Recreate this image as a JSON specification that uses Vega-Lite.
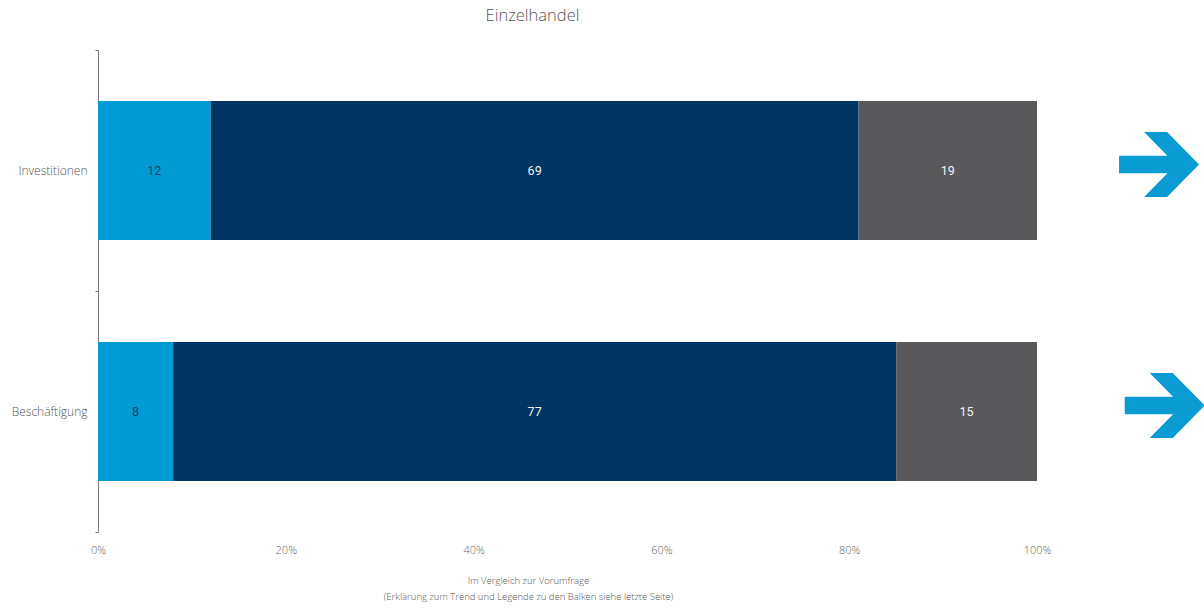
{
  "$schema": "https://vega.github.io/schema/vega-lite/v6.json",
  "autosize": {"type": "none"},
  "padding": {"left": 98, "top": 50, "right": 167, "bottom": 76},
  "width": 939,
  "height": 482,
  "background": "white",
  "config": {"view": {"stroke": null}, "font": "Open Sans"},
  "title": {"text": "Einzelhandel", "fontSize": 16.5, "fontWeight": 300, "color": "#555555", "font": "Open Sans", "dx": -35, "offset": 20},
  "datasets": {
    "bars": [
      {"cat": "Investitionen", "seg": "steigend", "rank": 1, "value": 12},
      {"cat": "Investitionen", "seg": "gleichbleibend", "rank": 2, "value": 69},
      {"cat": "Investitionen", "seg": "sinkend", "rank": 3, "value": 19},
      {"cat": "Beschäftigung", "seg": "steigend", "rank": 1, "value": 8},
      {"cat": "Beschäftigung", "seg": "gleichbleibend", "rank": 2, "value": 77},
      {"cat": "Beschäftigung", "seg": "sinkend", "rank": 3, "value": 15}
    ],
    "arrows": [
      {"cat": "Investitionen", "pos": 113.0, "trend": "gleich"},
      {"cat": "Beschäftigung", "pos": 113.6, "trend": "gleich"}
    ]
  },
  "layer": [
    {
      "data": {"name": "bars"},
      "mark": {"type": "bar", "height": {"band": 0.577}},
      "encoding": {
        "y": {
          "field": "cat", "type": "nominal", "sort": ["Investitionen", "Beschäftigung"],
          "scale": {"paddingInner": 0, "paddingOuter": 0},
          "axis": {"title": null, "domain": true, "domainColor": "#7a7a7a", "ticks": true, "tickBand": "extent", "tickSize": 3, "tickColor": "#7a7a7a", "labelPadding": 8, "labelFontSize": 12, "labelColor": "#555555", "labelFont": "Open Sans", "labelFontWeight": 300}
        },
        "x": {
          "field": "value", "type": "quantitative", "stack": "zero",
          "scale": {"domain": [0, 100], "nice": false},
          "axis": {
            "values": [0, 20, 40, 60, 80, 100],
            "labelExpr": "datum.value + '%'",
            "labelFlush": false,
            "domain": false, "ticks": false, "tickSize": 0, "grid": false,
            "labelPadding": 12, "labelFontSize": 11, "labelColor": "#666666", "labelFont": "Open Sans", "labelFontWeight": 300,
            "title": ["Im Vergleich zur Vorumfrage", "(Erklärung zum Trend und Legende zu den Balken siehe letzte Seite)"],
            "titleFontSize": 9.5, "titleFontWeight": 300, "titleColor": "#555555", "titleFont": "Open Sans",
            "titleX": 430, "titleY": 43, "titleBaseline": "top", "titleLineHeight": 16, "titleAnchor": "middle", "titleAlign": "center"
          }
        },
        "order": {"field": "rank", "type": "quantitative"},
        "color": {
          "field": "seg", "type": "nominal",
          "scale": {"domain": ["steigend", "gleichbleibend", "sinkend"], "range": ["#009BD5", "#003462", "#59595B"]},
          "legend": null
        }
      }
    },
    {
      "data": {"name": "bars"},
      "mark": {"type": "text", "fontSize": 12.5, "fontWeight": 400, "font": "Roboto"},
      "encoding": {
        "y": {"field": "cat", "type": "nominal", "sort": ["Investitionen", "Beschäftigung"]},
        "x": {"field": "value", "type": "quantitative", "stack": "zero", "bandPosition": 0.5},
        "order": {"field": "rank", "type": "quantitative"},
        "detail": {"field": "seg"},
        "text": {"field": "value", "type": "quantitative"},
        "color": {"condition": {"test": "datum.seg === 'steigend'", "value": "#1d3c63"}, "value": "#f2f2f2"}
      }
    },
    {
      "data": {"name": "arrows"},
      "mark": {"type": "point", "filled": true, "opacity": 1, "yOffset": -6, "size": 6400, "color": "#0A9BD3",
        "shape": "M-1,-0.22L0.21,-0.22L-0.375,-0.81L0.2,-0.81L1,0L0.2,0.81L-0.375,0.81L0.21,0.22L-1,0.22Z"},
      "encoding": {
        "y": {"field": "cat", "type": "nominal", "sort": ["Investitionen", "Beschäftigung"]},
        "x": {"field": "pos", "type": "quantitative"}
      }
    }
  ]
}
